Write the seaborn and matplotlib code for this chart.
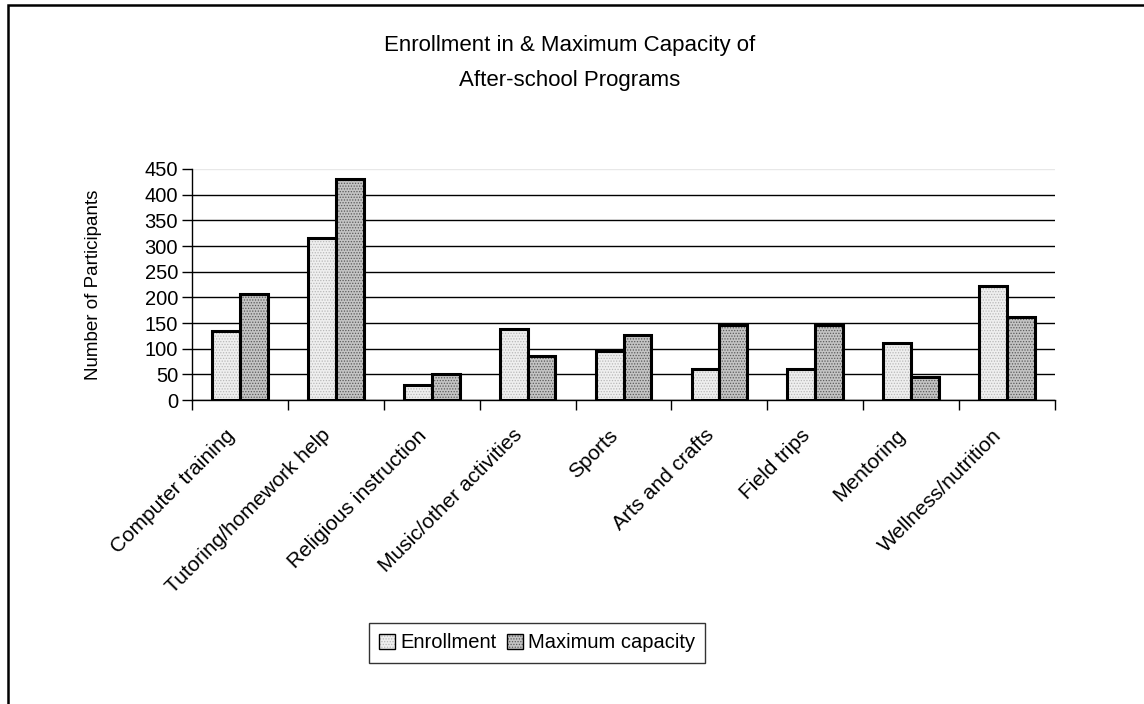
import matplotlib
matplotlib.use("Agg")
import matplotlib.pyplot as plt
import matplotlib.transforms as mtransforms
import seaborn as sns
import pandas as pd
from matplotlib.patches import Patch, Rectangle
from matplotlib.colors import to_rgba

categories = ["Computer training", "Tutoring/homework help", "Religious instruction",
              "Music/other activities", "Sports", "Arts and crafts", "Field trips",
              "Mentoring", "Wellness/nutrition"]
enrollment = [134, 316, 30, 138, 95, 61, 61, 112, 223]
max_capacity = [206, 430, 50, 85, 126, 147, 146, 45, 161]
series_names = ["Enrollment", "Maximum capacity"]
y_ticks = [0, 50, 100, 150, 200, 250, 300, 350, 400, 450]

df = pd.DataFrame({
    "Program": categories * 2,
    "Series": [series_names[0]] * len(categories) + [series_names[1]] * len(categories),
    "Value": enrollment + max_capacity,
})

sns.set_theme(style="white")
plt.rcParams["font.family"] = ["Liberation Sans", "DejaVu Sans"]
plt.rcParams["hatch.linewidth"] = 0.6
plt.rcParams["text.color"] = "black"
plt.rcParams["axes.labelcolor"] = "black"
plt.rcParams["xtick.color"] = "black"
plt.rcParams["ytick.color"] = "black"
plt.rcParams["xtick.labelcolor"] = "black"
plt.rcParams["ytick.labelcolor"] = "black"

fig = plt.figure(figsize=(11.44, 7.04), dpi=100)
ax = fig.add_axes([192 / 1144, 1 - 400 / 704, (1055 - 192) / 1144, (400 - 169) / 704])

styles = {
    series_names[0]: dict(face="#efefef", hatch="......", hcol="#b8b8b8"),
    series_names[1]: dict(face="#c4c4c4", hatch="......", hcol="#5a5a5a"),
}

sns.barplot(data=df, x="Program", y="Value", hue="Series", order=categories,
            hue_order=series_names, width=0.58, gap=0, legend=False, ax=ax,
            palette=[styles[s]["face"] for s in series_names],
            edgecolor="black", linewidth=2.2, saturation=1)

def style_patch(p, s):
    p.set_facecolor(styles[s]["face"])
    p.set_hatch(styles[s]["hatch"])
    try:
        p.set_hatchcolor(styles[s]["hcol"])
    except AttributeError:
        p._hatch_color = to_rgba(styles[s]["hcol"])

for i, cont in enumerate(ax.containers):
    for p in cont:
        style_patch(p, series_names[i])

ax.set_ylim(0, 450)
ax.set_xlim(-0.5, len(categories) - 0.5)
ax.set_yticks(y_ticks)
ax.set_yticklabels([str(v) for v in y_ticks], fontsize=14.5, color="black")
ax.yaxis.grid(True, color="black", linewidth=1)
ax.get_ygridlines()[-1].set_color("#e8e8e8")
ax.set_axisbelow(True)

ax.set_xticks(range(len(categories)))
ax.set_xticklabels(categories, rotation=45, ha="right", rotation_mode="anchor", fontsize=15, color="black")
ax.set_xticks([i - 0.5 for i in range(len(categories) + 1)], minor=True)
ax.tick_params(axis="x", which="major", length=0, pad=12)
ax.tick_params(axis="x", which="minor", length=7, width=1, color="black", direction="out", bottom=True)
ax.tick_params(axis="y", which="major", length=7, width=1, color="black", direction="out", left=True, pad=3)
offset = mtransforms.ScaledTranslation(-15 / 100, -9 / 100, fig.dpi_scale_trans)
for lbl in ax.get_xticklabels():
    lbl.set_transform(lbl.get_transform() + offset)

for side in ["top", "right"]:
    ax.spines[side].set_visible(False)
for side in ["left", "bottom"]:
    ax.spines[side].set_visible(True)
    ax.spines[side].set_color("black")
    ax.spines[side].set_linewidth(1)

ax.set_xlabel("")
ax.set_ylabel("Number of Participants", fontsize=13.5, labelpad=31, color="black")

fig.text(570 / 1144, 1 - 63 / 704, "Enrollment in & Maximum Capacity of\nAfter-school Programs",
         ha="center", va="center", fontsize=16, linespacing=1.85, color="black")

handles = []
for s in series_names:
    h = Patch(facecolor=styles[s]["face"], edgecolor="black", hatch=styles[s]["hatch"], linewidth=1, label=s)
    handles.append(h)
leg = fig.legend(handles=handles, loc="center", bbox_to_anchor=(537 / 1144, 1 - 643 / 704),
                 ncol=2, fontsize=14.5, frameon=True, fancybox=False, edgecolor="black",
                 handlelength=0.8, handleheight=0.8, handletextpad=0.25, columnspacing=0.5,
                 borderpad=0.5, borderaxespad=0, labelcolor="black")
leg.get_frame().set_linewidth(1)
for h, s in zip(leg.legend_handles, series_names):
    try:
        h.set_hatchcolor(styles[s]["hcol"])
    except AttributeError:
        h._hatch_color = to_rgba(styles[s]["hcol"])

fig.add_artist(Rectangle((8 / 1144, -0.1), 1.2, 1.1 - 5 / 704, transform=fig.transFigure,
                         fill=False, edgecolor="black", linewidth=1.8))

fig.savefig("out.png", dpi=100, facecolor="white")
